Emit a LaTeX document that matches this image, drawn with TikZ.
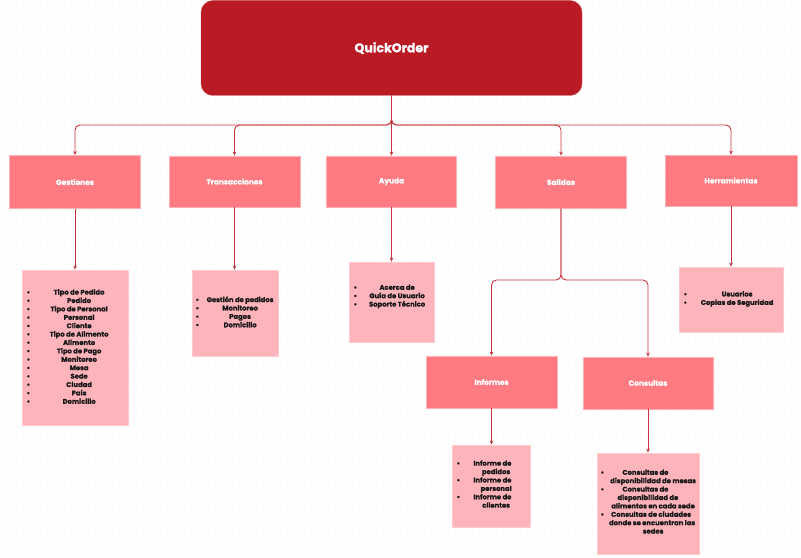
\documentclass[tikz,border=0pt]{standalone}
\usepackage{fontspec}
\usepackage{array}
\setmainfont{Poppins}[BoldFeatures={FakeBold=1.2}]
\usetikzlibrary{arrows.meta,patterns.meta}

\definecolor{rootred}{HTML}{BA1A24}
\definecolor{boxred}{HTML}{FF7A81}
\definecolor{boxedge}{HTML}{FFB0B6}
\definecolor{listpink}{HTML}{FFB3BA}
\definecolor{listedge}{HTML}{FFC9CE}
\definecolor{wire}{HTML}{C7343F}

% small heavy font for the bullet lists, with a matching strut
\newcommand\listfont{\fontsize{6.8bp}{8.4bp}\selectfont\bfseries
  \setbox\strutbox\hbox{\vrule height.7\baselineskip depth.3\baselineskip width0pt}}
% #1 gap after bullet, #2 width of the centred text column, #3 rows
\newcommand\blist[3]{\listfont
  \begin{tabular}{@{}l@{\hspace{#1bp}}>{\centering\arraybackslash}p{#2bp}@{}}#3\end{tabular}}
\newcommand\bi{\textbullet &}

\tikzset{
  rootbox/.style={draw=rootred!80!white, fill=rootred, rounded corners=12bp,
    minimum width=381bp, minimum height=95bp, text=white,
    font=\fontsize{12.5bp}{14bp}\selectfont\bfseries},
  catbox/.style={draw=boxedge, line width=0.8bp, fill=boxred,
    minimum width=131bp, minimum height=52bp, text=white,
    font=\fontsize{7.4bp}{9bp}\selectfont\bfseries},
  listbox/.style={draw=listedge, line width=0.8bp, fill=listpink},
  listtext/.style={anchor=west, inner sep=0pt, text=black!90},
  wireline/.style={draw=wire, line width=0.9bp, rounded corners=5bp},
  arrowline/.style={wireline, -{Stealth[length=4bp,width=3.6bp]}},
}

\begin{document}
\begin{tikzpicture}[x=1bp, y=-1bp]
  \useasboundingbox (0,0) rectangle (801,558);
  % dotted canvas
  \fill[white] (0,0) rectangle (801,558);
  \fill[pattern={Dots[distance=6bp, radius=0.45bp]}, pattern color=black!8]
    (0,0) rectangle (801,558);

  % root
  \node[rootbox] (root) at (391.5,48) {QuickOrder};

  % first level
  \node[catbox, minimum height=53bp] (gest) at (75,182) {Gestiones};
  \node[catbox, minimum height=51bp] (trans) at (234.5,181.5) {Transacciones};
  \node[catbox, minimum width=130bp, minimum height=51bp] (ayuda) at (391.5,181.5) {Ayuda};
  \node[catbox] (sal) at (561,182) {Salidas};
  \node[catbox, minimum width=132bp, minimum height=51bp] (herr) at (731,180.5) {Herramientas};

  % second level under Salidas
  \node[catbox] (inf) at (491.5,382) {Informes};
  \node[catbox, minimum width=130bp] (cons) at (648,383) {Consultas};

  % list boxes
  \node[listbox, minimum width=106bp, minimum height=155bp] (lg) at (75,347.5) {};
  \node[listbox, minimum width=86bp, minimum height=86bp] (lt) at (235,313) {};
  \node[listbox, minimum width=85bp, minimum height=80bp] (la) at (391.5,302) {};
  \node[listbox, minimum width=104bp, minimum height=65bp] (lh) at (731,299.5) {};
  \node[listbox, minimum width=78bp, minimum height=82bp] (li) at (491,486) {};
  \node[listbox, minimum width=102bp, minimum height=101bp] (lc) at (648,503.5) {};

  % list contents
  \node[listtext] (lgt) at (26.5,347.5) {\blist{8}{82}{
    \bi Tipo de Pedido\\ \bi Pedido\\ \bi Tipo de Personal\\ \bi Personal\\
    \bi Cliente\\ \bi Tipo de Alimento\\ \bi Alimento\\ \bi Tipo de Pago\\
    \bi Monitoreo\\ \bi Mesa\\ \bi Sede\\ \bi Ciudad\\ \bi País\\ \bi Domicilio}};
  \node[listtext] (ltt) at (195.5,313) {\blist{4}{74}{
    \bi Gestión de pedidos\\ \bi Monitoreo\\ \bi Pagos\\ \bi Domicilio}};
  \node[listtext] (lat) at (353.5,296.5) {\blist{7}{66}{
    \bi Acerca de\\ \bi Guía de Usuario\\ \bi Soporte Técnico}};
  \node[listtext] (lht) at (683.5,299) {\blist{6}{88}{
    \bi Usuarios\\ \bi Copias de Seguridad}};
  \node[listtext] (lit) at (456.5,485) {\blist{6}{60}{
    \bi Informe de\newline pedidos\\ \bi Informe de\newline personal\\
    \bi Informe de\newline clientes}};
  \node[listtext] (lct) at (600.5,502.5) {\blist{3}{92}{
    \bi Consultas de\newline disponibilidad de mesas\\
    \bi Consultas de\newline disponibilidad de\newline alimentos en cada sede\\
    \bi Consultas de ciudades\newline donde se encuentran las\newline sedes}};

  % branch rails
  \coordinate (bus) at (0,125);
  \coordinate (split) at (0,280);

  % root to first level
  \foreach \c in {gest,trans,ayuda,sal,herr}
    \draw[arrowline] (root.south) -- (root.south |- bus) -| (\c.north);

  % Salidas to its two branches
  \foreach \c in {inf,cons}
    \draw[arrowline] (sal.south) -- (sal.south |- split) -| (\c.north);

  % categories to their lists
  \draw[arrowline] (gest.south) -- (lg.north);
  \draw[arrowline] (trans.south) -- (trans.south |- lt.north);
  \draw[arrowline] (ayuda.south) -- (ayuda.south |- la.north);
  \draw[arrowline] (herr.south) -- (lh.north);
  \draw[arrowline] (inf.south) -- (inf.south |- li.north);
  \draw[arrowline] (cons.south) -- (lc.north);
\end{tikzpicture}
\end{document}
